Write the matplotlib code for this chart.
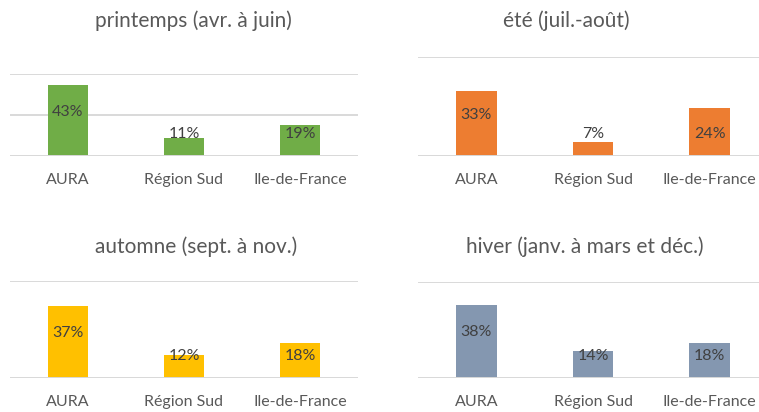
import matplotlib
matplotlib.use("Agg")
import matplotlib.pyplot as plt

plt.rcParams['font.family'] = ['Lato', 'DejaVu Sans']

# Data
regions = ["AURA", "Région Sud", "Ile-de-France"]
titles = ["printemps (avr. à juin)", "été (juil.-août)",
          "automne (sept. à nov.)", "hiver (janv. à mars et déc.)"]
printemps = [0.43, 0.11, 0.19]
ete = [0.33, 0.07, 0.24]
automne = [0.37, 0.12, 0.18]
hiver = [0.38, 0.14, 0.18]
colors = ["#70AD47", "#ED7D31", "#FFC000", "#8497B0"]

series = [printemps, ete, automne, hiver]

W, H = 759, 412
fig = plt.figure(figsize=(W / 100, H / 100), dpi=100)

# axes boxes in pixels: left, right, top, bottom ; title centre (x, y)
boxes = [
    (10, 358, 74, 156, 193, 21),
    (418, 768, 57, 156, 566, 21),
    (10, 358, 281, 378, 196, 247),
    (418, 768, 282, 378, 585, 247),
]
yticks = [[0, 0.25, 0.5], [0, 0.5], [0, 0.5], [0, 0.5]]

for i, vals in enumerate(series):
    l, r, t, b, tx, ty = boxes[i]
    ax = fig.add_axes([l / W, 1 - b / H, (r - l) / W, (b - t) / H])
    x = range(len(regions))
    ax.bar(x, vals, width=0.35, color=colors[i], zorder=2)
    ax.set_xlim(-0.5, 2.5)
    ax.set_ylim(0, 0.5)
    ax.set_yticks(yticks[i])
    ax.yaxis.grid(True, color="#D9D9D9", lw=1.4)
    ax.set_axisbelow(True)
    ax.axhline(0, color="#D9D9D9", lw=1.4, zorder=3)
    ax.tick_params(axis="y", length=0, labelleft=False)
    ax.tick_params(axis="x", length=0, pad=12, labelsize=11.5, labelcolor="#595959")
    ax.set_xticks(list(x))
    ax.set_xticklabels(regions)
    for s in ax.spines.values():
        s.set_visible(False)
    ax.patch.set_visible(False)
    for xi, v in zip(x, vals):
        if v > 0.3:
            ax.text(xi, v * 0.63, f"{round(v * 100)}%", ha="center", va="center",
                    fontsize=11.5, color="#404040", zorder=4)
        else:
            ax.annotate(f"{round(v * 100)}%", (xi, 0), xytext=(0, 16),
                        textcoords="offset points", ha="center", va="center",
                        fontsize=11.5, color="#404040", zorder=4)
    fig.text(tx / W, 1 - ty / H, titles[i], ha="center", va="center",
             fontsize=15, color="#595959")

fig.savefig("out.png", dpi=100)
